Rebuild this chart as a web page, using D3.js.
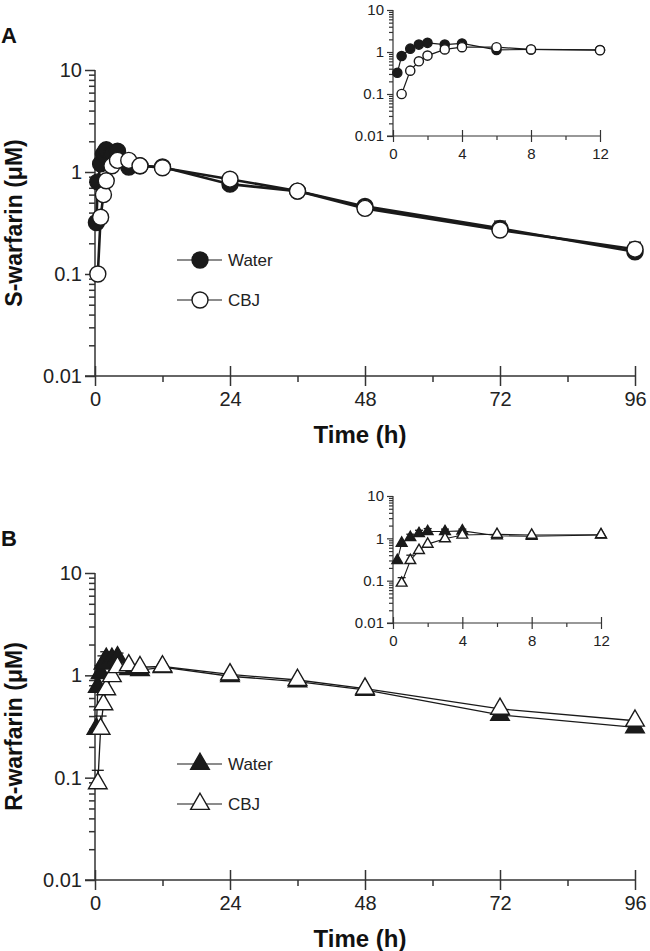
<!DOCTYPE html>
<html>
<head>
<meta charset="utf-8">
<script src="https://cdnjs.cloudflare.com/ajax/libs/d3/7.8.5/d3.min.js"></script>
<style>
  body { margin: 0; background: #fff; }
  text { font-family: "Liberation Sans", Arial, sans-serif; }
</style>
</head>
<body>
<script>
// sampling times (h)
var timesWater = [0.25, 0.5, 1, 1.5, 2, 3, 4, 6, 8, 12, 24, 36, 48, 72, 96];
var timesCBJ = [0.5, 1, 1.5, 2, 3, 4, 6, 8, 12, 24, 36, 48, 72, 96];

// S-warfarin (uM)
var sWater = [0.32, 0.8, 1.2, 1.5, 1.65, 1.5, 1.6, 1.12, 1.15, 1.12, 0.76, 0.65, 0.46, 0.28, 0.165];
var sWaterSD = [0, 0, 0, 0, 0, 0.1, 0.1, 0, 0, 0, 0, 0, 0, 0.05, 0.04];
var sCBJ = [0.1, 0.36, 0.6, 0.82, 1.15, 1.3, 1.3, 1.15, 1.1, 0.85, 0.65, 0.44, 0.27, 0.175];
var sCBJSD = [0, 0, 0, 0, 0, 0, 0, 0, 0, 0, 0, 0, 0, 0];

// R-warfarin (uM)
var rWater = [0.3, 0.77, 1.05, 1.3, 1.45, 1.45, 1.5, 1.15, 1.12, 1.2, 0.98, 0.87, 0.72, 0.41, 0.31];
var rWaterSD = [0, 0, 0.2, 0.25, 0.25, 0.2, 0.15, 0, 0, 0, 0, 0, 0, 0, 0];
var rCBJ = [0.088, 0.3, 0.52, 0.73, 0.98, 1.2, 1.25, 1.2, 1.22, 1.02, 0.9, 0.74, 0.47, 0.36];
var rCBJSD = [0.03, 0.1, 0, 0, 0, 0, 0, 0, 0, 0, 0, 0, 0, 0];

var yMajor = [0.01, 0.1, 1, 10];
var yLabels = ["0.01", "0.1", "1", "10"];
var xMajorMain = [0, 24, 48, 72, 96];
var xMinorMain = [12, 36, 60, 84];
var xMajorInset = [0, 4, 8, 12];
var xMinorInset = [2, 6, 10];

var ink = "#1a1a1a", axisInk = "#333";

var svg = d3.select("body").append("svg")
    .attr("width", 650)
    .attr("height", 951);

function pts(times, vals, sd, xMax) {
    return times.map(function (t, i) { return { t: t, v: vals[i], sd: sd[i] }; })
        .filter(function (d) { return d.t <= xMax; });
}

function panel(o) {
    var g = svg.append("g");
    var x = d3.scaleLinear().domain([0, o.xMax]).range([o.left, o.right]);
    var y = d3.scaleLog().domain([0.01, 10]).range([o.bottom, o.top]);

    var minor = [];
    [0.01, 0.1, 1].forEach(function (d) {
        for (var k = 2; k < 10; k++) minor.push(d * k);
    });

    // y axis
    var ym = g.append("g").attr("transform", "translate(" + o.left + ",0)")
        .call(d3.axisLeft(y).tickValues(minor).tickSize(o.minorLen).tickFormat(""));
    ym.select(".domain").remove();
    var yM = g.append("g").attr("transform", "translate(" + o.left + ",0)")
        .call(d3.axisLeft(y).tickValues(yMajor).tickSize(o.majorLen).tickPadding(o.pad)
            .tickFormat(function (d, i) { return yLabels[i]; }));
    yM.select(".domain").remove();

    // x axis
    var xm = g.append("g").attr("transform", "translate(0," + o.bottom + ")")
        .call(d3.axisBottom(x).tickValues(o.xMinor).tickSize(o.minorLen).tickFormat(""));
    xm.select(".domain").remove();
    var xM = g.append("g").attr("transform", "translate(0," + o.bottom + ")")
        .call(d3.axisBottom(x).tickValues(o.xMajor).tickSize(o.majorLen).tickPadding(o.xpad));
    xM.select(".domain").remove();
    xM.selectAll(".tick line").attr("y1", -o.majorLen);

    [ym, yM, xm, xM].forEach(function (a) {
        a.attr("font-family", null).attr("font-size", null);
        a.selectAll("line").attr("stroke", axisInk).attr("stroke-width", o.axisW);
        a.selectAll("text").attr("fill", "#222").style("font-size", o.tickFont + "px");
    });

    g.append("line")
        .attr("x1", o.left).attr("x2", o.left)
        .attr("y1", y(10)).attr("y2", y(0.01))
        .attr("stroke", axisInk).attr("stroke-width", o.axisW);
    g.append("line")
        .attr("x1", o.left - o.majorLen).attr("x2", x(o.xMax))
        .attr("y1", o.bottom).attr("y2", o.bottom)
        .attr("stroke", axisInk).attr("stroke-width", o.axisW);

    var line = d3.line().x(function (d) { return x(d.t); }).y(function (d) { return y(d.v); });

    o.series.forEach(function (s) {
        var data = pts(s.times, s.vals, s.sd, o.xMax);
        g.append("path").datum(data)
            .attr("d", line)
            .attr("fill", "none")
            .attr("stroke", ink)
            .attr("stroke-width", o.lineW);
        s.data = data;
    });

    o.series.forEach(function (s) {
        var eb = g.append("g").selectAll("g")
            .data(s.data.filter(function (d) { return d.sd > 0; }))
            .enter().append("g")
            .attr("stroke", ink).attr("stroke-width", 1.3);
        eb.append("line")
            .attr("x1", function (d) { return x(d.t); })
            .attr("x2", function (d) { return x(d.t); })
            .attr("y1", function (d) { return y(d.v); })
            .attr("y2", function (d) { return y(d.v + d.sd); });
        eb.append("line")
            .attr("x1", function (d) { return x(d.t) - o.capW; })
            .attr("x2", function (d) { return x(d.t) + o.capW; })
            .attr("y1", function (d) { return y(d.v + d.sd); })
            .attr("y2", function (d) { return y(d.v + d.sd); });

        drawMarkers(g, s.data, function (d) { return x(d.t); }, function (d) { return y(d.v); },
            o.shape, s.filled, o.markSize);
    });

    return { x: x, y: y };
}

function drawMarkers(g, data, fx, fy, shape, filled, size) {
    var m;
    if (shape === "circle") {
        m = g.append("g").selectAll("circle").data(data).enter().append("circle")
            .attr("cx", fx).attr("cy", fy).attr("r", size);
    } else {
        var sym = d3.symbol().type(d3.symbolTriangle).size(size);
        m = g.append("g").selectAll("path").data(data).enter().append("path")
            .attr("d", sym)
            .attr("transform", function (d) { return "translate(" + fx(d) + "," + fy(d) + ")"; });
    }
    m.attr("fill", filled ? ink : "#fff")
        .attr("stroke", ink)
        .attr("stroke-width", 1.4);
}

function legend(y0, shape, size) {
    var items = [{ name: "Water", filled: true }, { name: "CBJ", filled: false }];
    items.forEach(function (it, i) {
        var yy = y0 + i * 40;
        svg.append("line")
            .attr("x1", 177).attr("x2", 222)
            .attr("y1", yy).attr("y2", yy)
            .attr("stroke", ink).attr("stroke-width", 1.2);
        drawMarkers(svg, [0], function () { return 200; }, function () { return yy; }, shape, it.filled, size);
        svg.append("text")
            .attr("x", 228).attr("y", yy + 6)
            .style("font-size", "17px").attr("fill", "#222")
            .text(it.name);
    });
}

function titles(o, letter, ylab) {
    svg.append("text").attr("x", 1).attr("y", o.top - 27)
        .style("font-size", "22px").style("font-weight", "bold").attr("fill", "#111")
        .text(letter);
    svg.append("text")
        .attr("transform", "translate(22," + ((o.top + o.bottom) / 2) + ") rotate(-90)")
        .attr("text-anchor", "middle")
        .style("font-size", "23px").style("font-weight", "bold").attr("fill", "#111")
        .text(ylab);
    svg.append("text")
        .attr("x", (o.left + o.right) / 2 - 5).attr("y", o.bottom + 67)
        .attr("text-anchor", "middle")
        .style("font-size", "24px").style("font-weight", "bold").attr("fill", "#111")
        .text("Time (h)");
}

var mainA = {
    left: 95, right: 635, top: 70, bottom: 376, xMax: 96,
    xMajor: xMajorMain, xMinor: xMinorMain,
    majorLen: 10, minorLen: 6, pad: 3, xpad: 6, axisW: 1.5, tickFont: 20,
    lineW: 2.6, markSize: 8, capW: 6, shape: "circle",
    series: [
        { times: timesWater, vals: sWater, sd: sWaterSD, filled: true },
        { times: timesCBJ, vals: sCBJ, sd: sCBJSD, filled: false }
    ]
};
var insetA = {
    left: 393, right: 600, top: 10, bottom: 136, xMax: 12,
    xMajor: xMajorInset, xMinor: xMinorInset,
    majorLen: 6, minorLen: 4, pad: 3, xpad: 6, axisW: 1.2, tickFont: 15,
    lineW: 1.2, markSize: 4.6, capW: 4, shape: "circle",
    series: [
        { times: timesWater, vals: sWater, sd: sWaterSD, filled: true },
        { times: timesCBJ, vals: sCBJ, sd: sCBJSD, filled: false }
    ]
};
var mainB = {
    left: 95, right: 635, top: 573, bottom: 880, xMax: 96,
    xMajor: xMajorMain, xMinor: xMinorMain,
    majorLen: 10, minorLen: 6, pad: 3, xpad: 6, axisW: 1.5, tickFont: 20,
    lineW: 1.3, markSize: 150, capW: 6, shape: "triangle",
    series: [
        { times: timesWater, vals: rWater, sd: rWaterSD, filled: true },
        { times: timesCBJ, vals: rCBJ, sd: rCBJSD, filled: false }
    ]
};
var insetB = {
    left: 393, right: 601, top: 496, bottom: 623, xMax: 12,
    xMajor: xMajorInset, xMinor: xMinorInset,
    majorLen: 6, minorLen: 4, pad: 3, xpad: 6, axisW: 1.2, tickFont: 15,
    lineW: 1.1, markSize: 50, capW: 4, shape: "triangle",
    series: [
        { times: timesWater, vals: rWater, sd: rWaterSD, filled: true },
        { times: timesCBJ, vals: rCBJ, sd: rCBJSD, filled: false }
    ]
};

panel(mainA);
panel(insetA);
titles(mainA, "A", "S-warfarin (μM)");
legend(260, "circle", 8);

panel(mainB);
panel(insetB);
titles(mainB, "B", "R-warfarin (μM)");
legend(764, "triangle", 150);
</script>
</body>
</html>
